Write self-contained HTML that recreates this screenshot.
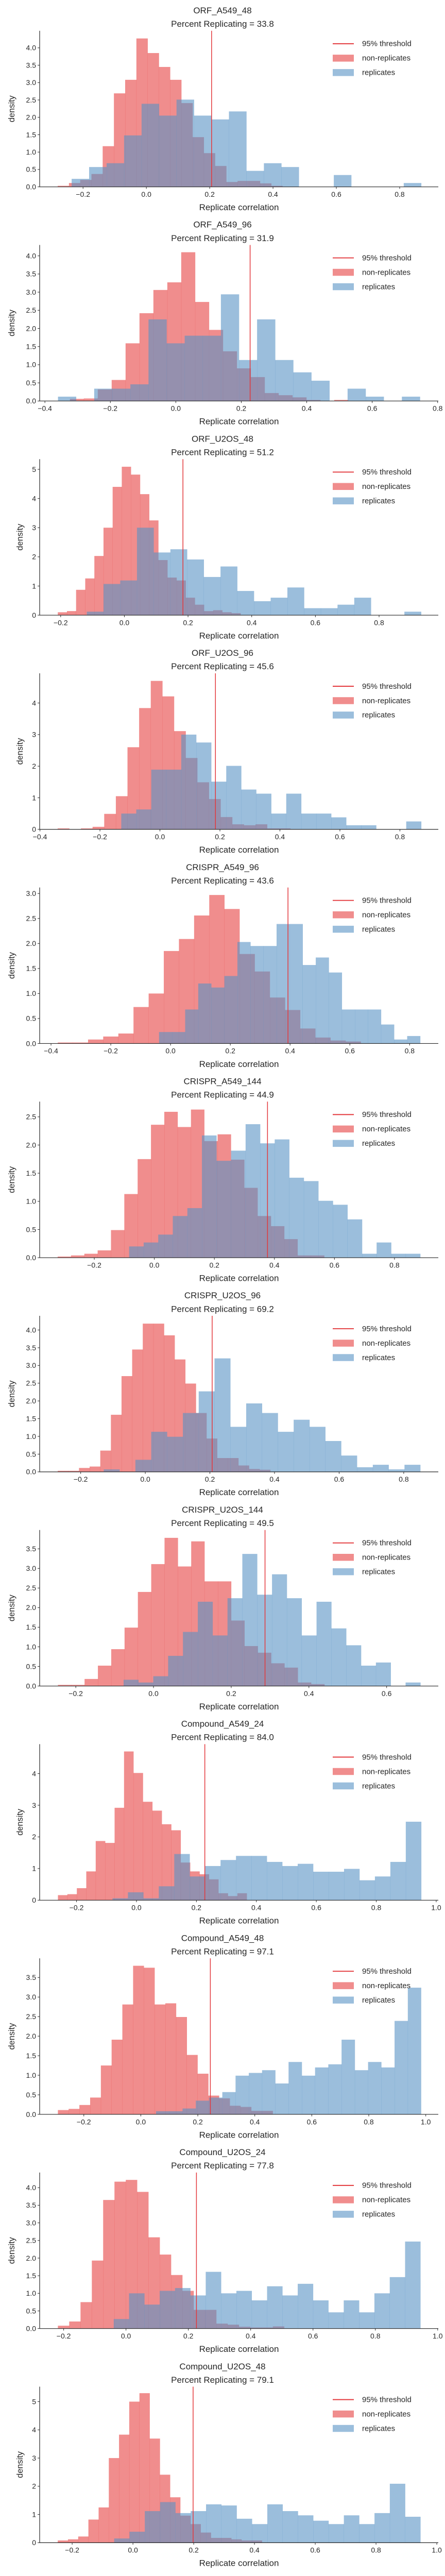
<!DOCTYPE html>
<html><head><meta charset="utf-8"><title>Replicate correlation histograms</title>
<style>
html,body{margin:0;padding:0;background:#fff;width:100%;height:100%;overflow:hidden;}
svg{display:block;position:fixed;left:0;top:0;width:100vw;height:100vh;font-family:"Liberation Sans",sans-serif;}
text{fill:#262626;}
</style></head>
<body>
<svg id="fig" viewBox="0 0 864 5184" preserveAspectRatio="none" xmlns="http://www.w3.org/2000/svg"></svg>
<script>
const panelNames = ["ORF_A549_48","ORF_A549_96","ORF_U2OS_48","ORF_U2OS_96","CRISPR_A549_96","CRISPR_A549_144","CRISPR_U2OS_96","CRISPR_U2OS_144","Compound_A549_24","Compound_A549_48","Compound_U2OS_24","Compound_U2OS_48"];
const percentReplicating = ["33.8","31.9","51.2","45.6","43.6","44.9","69.2","49.5","84.0","97.1","77.8","79.1"];
const thresholds = [0.206,0.227,0.184,0.185,0.393,0.377,0.207,0.287,0.228,0.244,0.226,0.198];
const xMins = [-0.337,-0.416,-0.266,-0.401,-0.438,-0.382,-0.327,-0.293,-0.323,-0.355,-0.277,-0.307];
const xMaxs = [0.922,0.802,0.986,0.928,0.896,0.946,0.907,0.733,1.007,1.044,1.002,1.005];
const yMaxs = [4.49,4.3,5.35,4.94,3.12,2.77,4.4,3.98,4.93,3.99,4.43,5.53];
const yTickSteps = [0.5,0.5,1,1,0.5,0.5,0.5,0.5,1,0.5,0.5,1];
const yTickMaxs = [4,4,5,4,3,2.5,4,3.5,4,3.5,4,5];
const xTickMins = [-0.2,-0.4,-0.2,-0.4,-0.4,-0.2,-0.2,-0.2,-0.2,-0.2,-0.2,-0.2];
const xTickMaxs = [0.8,0.8,0.8,0.8,0.8,0.8,0.8,0.6,1.0,1.0,1.0,1.0];
const redStarts = [-0.28,-0.3235,-0.209,-0.341,-0.3775,-0.322,-0.271,-0.246,-0.262,-0.291,-0.2185,-0.2474];
const redWidths = [0.0355,0.0425,0.0287,0.0388,0.0507,0.0444,0.0329,0.0343,0.0315,0.0377,0.0363,0.0336];
const redHeights = [
 [0.03,0.11,0.2,0.37,1.17,2.69,3.08,4.27,3.85,3.45,3.08,2.41,1.43,0.97,0.6,0.14,0.17,0.17,0.1,0.03],
 [0.06,0.07,0.32,0.58,1.59,2.42,3.06,3.27,4.1,2.73,1.96,1.37,0.9,0.66,0.22,0.16,0.1,0.03,0,0.03],
 [0.1,0.14,0.87,1.26,2.03,3.0,4.4,5.09,4.82,4.15,3.25,1.89,1.29,1.19,0.6,0.36,0.14,0.17,0.1,0.07],
 [0.03,0,0.03,0.08,0.49,1.05,2.6,3.84,4.7,4.21,3.11,2.26,1.49,0.96,0.39,0.16,0.13,0.16,0.03,0.03],
 [0.02,0.02,0.08,0.14,0.2,0.73,1.0,1.85,2.09,2.56,2.97,2.69,1.79,1.44,0.92,0.67,0.3,0.12,0.06,0.04],
 [0.02,0.04,0.07,0.13,0.49,1.13,1.75,2.36,2.59,2.32,2.63,2.07,2.19,1.74,1.24,0.74,0.56,0.33,0.04,0.04],
 [0.03,0.03,0.11,0.15,0.6,1.61,2.7,3.45,4.18,4.18,3.85,3.17,2.49,1.66,0.94,0.39,0.39,0.18,0.08,0.06],
 [0.03,0.03,0.18,0.52,0.94,1.49,2.4,3.11,3.78,3.05,3.69,2.67,2.67,1.67,1.02,0.85,0.58,0.47,0.09,0.05],
 [0.16,0.19,0.38,0.91,1.87,1.81,2.92,4.7,4.02,3.11,2.83,2.4,2.21,1.19,0.91,0.82,0.66,0.22,0.13,0.22],
 [0.11,0.14,0.24,0.43,1.25,1.91,2.81,3.8,3.75,2.81,2.84,2.49,1.52,1.04,0.48,0.41,0.22,0.19,0.09,0.09],
 [0.08,0.2,0.75,1.93,3.65,4.17,4.22,3.88,2.59,2.1,1.52,1.07,0.53,0.53,0.14,0.11,0.05,0.03,0.03,0.06],
 [0.08,0.12,0.22,0.82,1.25,3.0,3.83,5.0,5.3,3.69,2.41,1.61,0.96,0.66,0.36,0.17,0.17,0.12,0.08,0.08]
];
const blueStarts = [-0.236,-0.36,-0.118,-0.129,-0.0385,-0.084,-0.1287,-0.077,-0.08,0.0535,-0.0394,-0.0618];
const blueWidths = [0.0552,0.0553,0.0525,0.05,0.0437,0.0485,0.049,0.0382,0.0515,0.0465,0.0492,0.0504];
const blueHeights = [
 [0.23,0.57,0.68,1.48,2.39,2.05,2.51,2.05,1.94,2.17,0.46,0.68,0.57,0,0,0.34,0,0,0,0.11],
 [0.12,0,0.34,0.34,0.46,2.25,1.59,1.8,1.8,2.94,1.13,2.25,1.13,0.79,0.56,0,0.34,0.12,0,0.12],
 [0.12,1.07,1.19,3.0,2.15,2.26,1.91,1.31,1.67,0.83,0.48,0.6,0.95,0.24,0.24,0.36,0.6,0,0,0.12],
 [0.5,0.63,1.89,1.89,3.0,2.75,1.51,2.01,1.26,1.13,0.5,1.13,0.5,0.5,0.38,0.13,0.13,0,0,0.25],
 [0.23,0.23,0.68,1.2,1.12,1.35,2.03,1.95,1.95,2.39,2.39,1.57,1.72,1.42,0.68,0.68,0.68,0.38,0.08,0.15],
 [0.2,0.27,0.41,0.74,0.88,2.17,1.72,1.9,2.37,2.03,2.1,1.42,1.36,1.01,0.94,0.68,0.07,0.27,0.07,0.07],
 [0.07,0,0.34,1.13,0.99,1.66,2.27,3.2,1.27,1.93,1.66,1.13,1.47,1.27,0.87,0.46,0.13,0.2,0.07,0.2],
 [0.16,0.09,0.25,0.77,1.38,2.15,1.29,2.24,3.37,2.33,2.85,2.24,1.29,2.15,1.47,1.04,0.52,0.6,0,0.09],
 [0.06,0.25,0.06,0.44,1.46,0.75,1.08,1.27,1.4,1.4,1.21,1.08,1.15,0.9,0.9,0.99,0.63,0.75,1.21,2.48],
 [0.08,0.08,0.15,0.35,0.43,0.57,0.99,1.06,1.13,0.79,1.34,0.99,1.2,1.28,1.91,1.13,1.34,1.2,2.39,3.24],
 [0.27,1.0,0.68,1.07,1.15,0.94,1.61,1.0,1.07,0.8,1.2,0.94,1.27,0.8,0.46,0.8,0.46,1.0,1.46,2.47],
 [0.15,0.39,1.12,1.44,1.05,1.12,1.36,1.32,0.85,0.66,1.36,1.12,0.97,0.78,0.66,0.97,0.66,1.05,2.09,0.92]
];
const legendLabels = ["95% threshold","non-replicates","replicates"];

const NS = "http://www.w3.org/2000/svg";
const svg = document.getElementById("fig");
const PANEL_H = 431, AX_L = 77, AX_R = 851, AX_T = 62, AX_B = 376;

function mk(tag, attrs, parent){
  const e = document.createElementNS(NS, tag);
  for (const k in attrs) e.setAttribute(k, attrs[k]);
  parent.appendChild(e);
  return e;
}
function fmt(v, step){
  if (step >= 1) return String(Math.round(v));
  let s = v.toFixed(1);
  if (s === "-0.0") s = "0.0";
  return s.replace("-", "\u2212");
}

for (let p = 0; p < panelNames.length; p++){
  const off = p * PANEL_H;
  const g = mk("g", {transform: "translate(0," + off + ")"}, svg);
  
  
  const x = v => AX_L + (v - xMins[p]) / (xMaxs[p] - xMins[p]) * (AX_R - AX_L);
  const y = v => AX_B - v / yMaxs[p] * (AX_B - AX_T);

  const t1 = mk("text", {x: 432, y: 27, "text-anchor": "middle", "font-size": 17}, g);
  t1.textContent = panelNames[p];
  
  
  const t2 = mk("text", {x: 432, y: 54, "text-anchor": "middle", "font-size": 17}, g);
  t2.textContent = "Percent Replicating = " + percentReplicating[p];
  
  

  const rg = mk("g", {}, g);
  
  
  redHeights[p].forEach((h, i) => {
    if (h <= 0) return;
    const x0 = x(redStarts[p] + i * redWidths[p]), x1 = x(redStarts[p] + (i + 1) * redWidths[p]);
    const r = mk("rect", {x: x0, y: y(h), width: x1 - x0 + 0.3, height: AX_B - y(h), fill: "rgba(230,65,65,0.6)"}, rg);
    
    
  });
  const bg = mk("g", {}, g);
  
  
  blueHeights[p].forEach((h, i) => {
    if (h <= 0) return;
    const x0 = x(blueStarts[p] + i * blueWidths[p]), x1 = x(blueStarts[p] + (i + 1) * blueWidths[p]);
    const r = mk("rect", {x: x0, y: y(h), width: x1 - x0 + 0.3, height: AX_B - y(h), fill: "rgba(88,147,197,0.6)"}, bg);
    
    
  });
  const th = mk("line", {x1: x(thresholds[p]), x2: x(thresholds[p]), y1: AX_T, y2: AX_B, stroke: "#e3383c", "stroke-width": 1.5}, g);
  
  

  const ax = mk("path", {d: "M" + AX_L + "," + AX_T + " V" + AX_B + " H" + AX_R, fill: "none", stroke: "#262626", "stroke-width": 1.2}, g);
  
  

  const step = yTickSteps[p];
  const nY = Math.round(yTickMaxs[p] / step);
  for (let i = 0; i <= nY; i++){
    const v = i * step, yy = y(v);
    mk("line", {x1: AX_L - 4, x2: AX_L, y1: yy, y2: yy, stroke: "#262626", "stroke-width": 1}, g);
    const tl = mk("text", {x: AX_L - 7, y: yy + 5, "text-anchor": "end", "font-size": 14}, g);
    tl.textContent = fmt(v, step);
    
    
  }
  const nX = Math.round((xTickMaxs[p] - xTickMins[p]) / 0.2);
  for (let i = 0; i <= nX; i++){
    const v = xTickMins[p] + i * 0.2, xx = x(v);
    mk("line", {x1: xx, x2: xx, y1: AX_B, y2: AX_B + 4, stroke: "#262626", "stroke-width": 1}, g);
    const tl = mk("text", {x: xx, y: AX_B + 20, "text-anchor": "middle", "font-size": 14}, g);
    tl.textContent = fmt(v, 0.2);
    
    
  }
  const xl = mk("text", {x: 464, y: 423, "text-anchor": "middle", "font-size": 17}, g);
  xl.textContent = "Replicate correlation";
  
  
  const ylx = step >= 1 ? 44 : 28;
  const yl = mk("text", {x: ylx, y: 219, "text-anchor": "middle", "font-size": 17, transform: "rotate(-90 " + ylx + " 219)"}, g);
  yl.textContent = "density";
  
  

  const lg = mk("g", {}, g);
  
  
  mk("line", {x1: 646, x2: 687, y1: 88, y2: 88, stroke: "#e3383c", "stroke-width": 2}, lg);
  mk("rect", {x: 646, y: 110, width: 41, height: 14, fill: "rgba(230,65,65,0.6)"}, lg);
  mk("rect", {x: 646, y: 139, width: 41, height: 14, fill: "rgba(88,147,197,0.6)"}, lg);
  [93, 122, 151].forEach((yy, i) => {
    const lt = mk("text", {x: 703, y: yy, "font-size": 15}, lg);
    lt.textContent = legendLabels[i];
    
    
  });
}
</script>
</body></html>
